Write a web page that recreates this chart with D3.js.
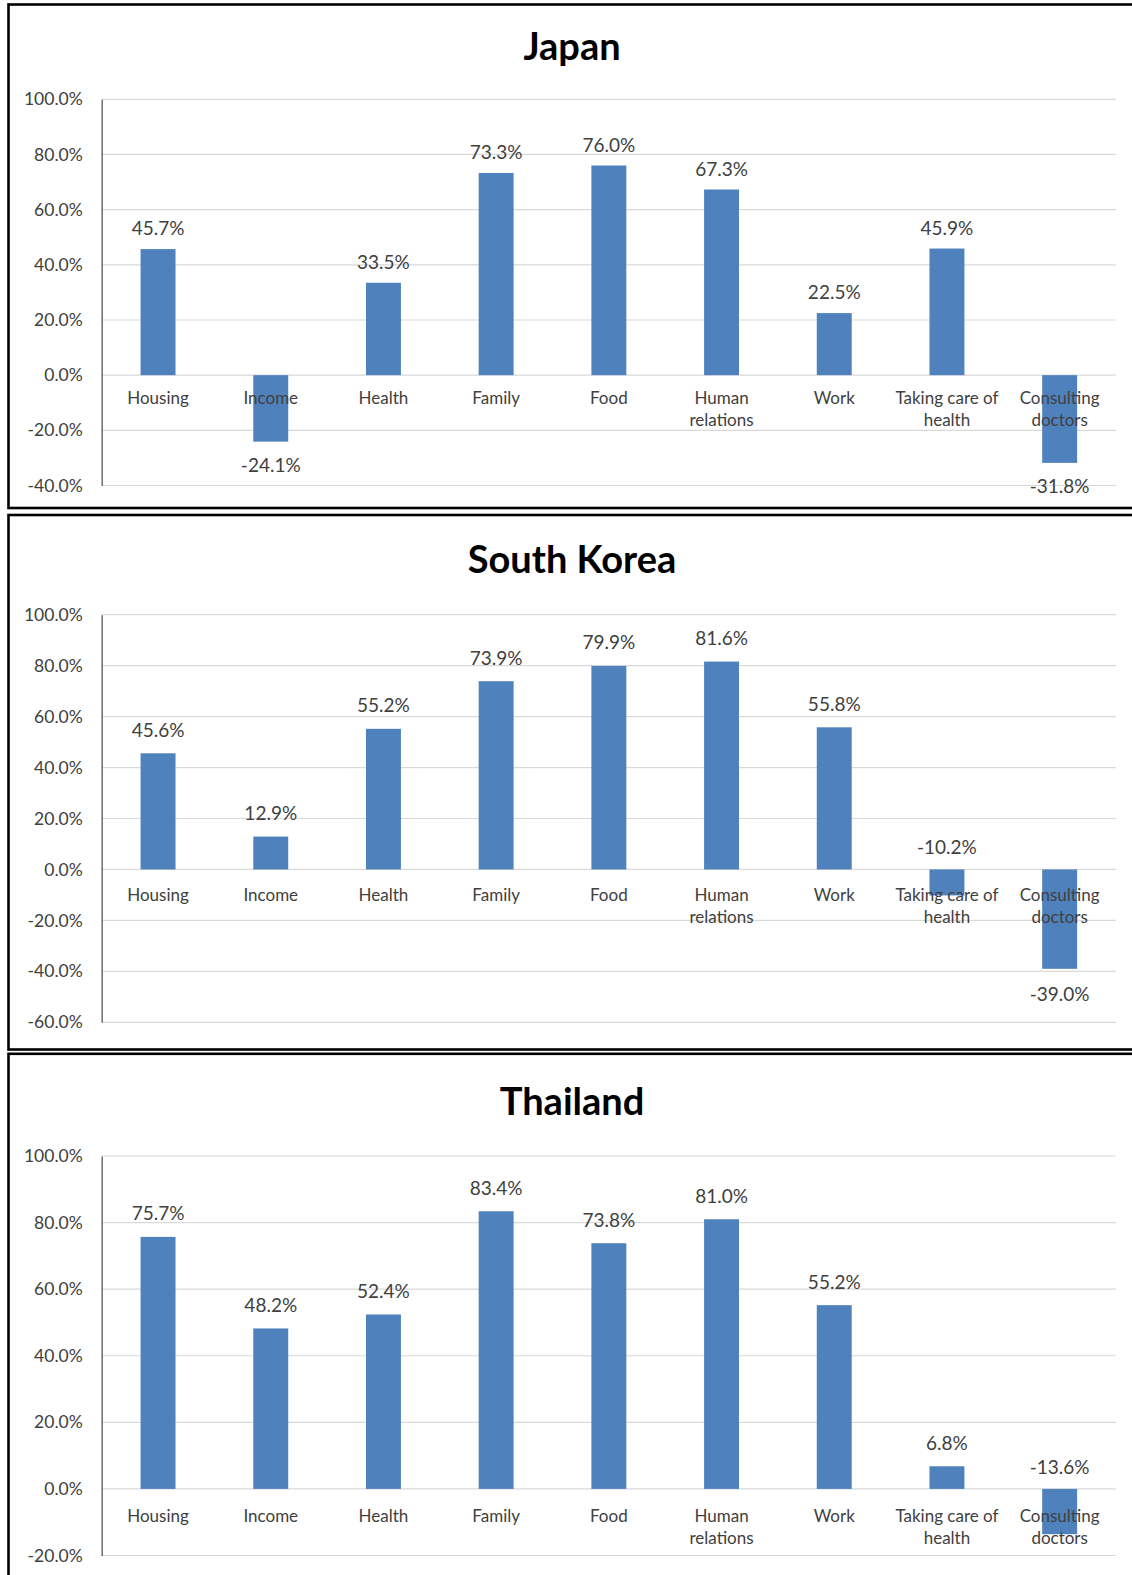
<!DOCTYPE html>
<html>
<head>
<meta charset="utf-8">
<script src="https://cdn.jsdelivr.net/npm/d3@7"></script>
<style>
  html, body { margin: 0; padding: 0; background: #fff; }
  svg { display: block; }
</style>
</head>
<body>
<svg id="chart" width="1132" height="1575"></svg>
<script>
// Share of respondents per life domain, by country (%)
const categories = ["Housing", "Income", "Health", "Family", "Food",
  "Human relations", "Work", "Taking care of health", "Consulting doctors"];
const categoryLines = [["Housing"], ["Income"], ["Health"], ["Family"], ["Food"],
  ["Human", "relations"], ["Work"], ["Taking care of", "health"], ["Consulting", "doctors"]];

const japanValues    = [45.7, -24.1, 33.5, 73.3, 76.0, 67.3, 22.5, 45.9, -31.8];
const koreaValues    = [45.6, 12.9, 55.2, 73.9, 79.9, 81.6, 55.8, -10.2, -39.0];
const thailandValues = [75.7, 48.2, 52.4, 83.4, 73.8, 81.0, 55.2, 6.8, -13.6];

const japanTicks    = [-40, -20, 0, 20, 40, 60, 80, 100];
const koreaTicks    = [-60, -40, -20, 0, 20, 40, 60, 80, 100];
const thailandTicks = [-20, 0, 20, 40, 60, 80, 100];

const titles = ["Japan", "South Korea", "Thailand"];

// Frame geometry for each of the three stacked charts
const panels = [
  { title: titles[0], values: japanValues, ticks: japanTicks,
    top: 4.5, bottom: 508, yTop: 99.3, yBottom: 485.5, titleY: 60,
    catOffset: 29, gapUp: 14, gapDown: 30 },
  { title: titles[1], values: koreaValues, ticks: koreaTicks,
    top: 515, bottom: 1049.5, yTop: 614.7, yBottom: 1022.3, titleY: 573,
    catOffset: 31.5, gapUp: 16.5, gapDown: 32 },
  { title: titles[2], values: thailandValues, ticks: thailandTicks,
    top: 1053.8, bottom: 1600, yTop: 1156, yBottom: 1555.5, titleY: 1115,
    catOffset: 33, gapUp: 16.5, gapDown: 32 }
];

const svg = d3.select("#chart");
const plotLeft = 101.7, plotRight = 1116;
const barColor = "#4F81BD";
const textColor = "#404040";
const font = "Lato, 'Open Sans', sans-serif";

const x = d3.scaleBand()
  .domain(categories)
  .range([plotLeft, plotRight])
  .paddingInner(0.69)
  .paddingOuter(0.345);

panels.forEach(p => {
  const g = svg.append("g");

  // frame
  g.append("rect")
    .attr("x", 8.5).attr("y", p.top)
    .attr("width", 1140).attr("height", p.bottom - p.top)
    .attr("fill", "#fff")
    .attr("stroke", "#000").attr("stroke-width", 2.6);

  const y = d3.scaleLinear()
    .domain([d3.min(p.ticks), d3.max(p.ticks)])
    .range([p.yBottom, p.yTop]);

  // title
  g.append("text")
    .attr("x", 572).attr("y", p.titleY)
    .attr("text-anchor", "middle")
    .attr("font-family", font).attr("font-weight", 700)
    .attr("font-size", 38).attr("fill", "#000")
    .text(p.title);

  // horizontal gridlines
  g.append("g").selectAll("line").data(p.ticks).join("line")
    .attr("x1", plotLeft).attr("x2", plotRight)
    .attr("y1", d => y(d)).attr("y2", d => y(d))
    .attr("stroke", "#D9D9D9").attr("stroke-width", 1.2);

  // y axis
  const axis = g.append("g")
    .attr("transform", `translate(${plotLeft},0)`)
    .call(d3.axisLeft(y).tickValues(p.ticks)
      .tickFormat(d => d.toFixed(1) + "%")
      .tickSize(0).tickPadding(19));
  axis.select(".domain").attr("stroke", "#595959").attr("stroke-width", 1.3);
  axis.selectAll("text")
    .attr("font-family", font).attr("font-size", 17.5)
    .attr("fill", textColor);

  const data = categories.map((c, i) => ({ c, i, v: p.values[i] }));

  // bars
  g.append("g").selectAll("rect").data(data).join("rect")
    .attr("x", d => x(d.c))
    .attr("width", x.bandwidth())
    .attr("y", d => y(Math.max(0, d.v)))
    .attr("height", d => Math.abs(y(d.v) - y(0)))
    .attr("fill", barColor);

  // category labels beside the zero line
  const cat = g.append("g").selectAll("text").data(data).join("text")
    .attr("text-anchor", "middle")
    .attr("font-family", font).attr("font-size", 17)
    .attr("fill", textColor);
  cat.each(function (d) {
    const t = d3.select(this);
    categoryLines[d.i].forEach((line, k) => {
      t.append("tspan")
        .attr("x", x(d.c) + x.bandwidth() / 2)
        .attr("y", y(0) + p.catOffset + k * 22)
        .text(line);
    });
  });

  // value labels
  g.append("g").selectAll("text").data(data).join("text")
    .attr("x", d => x(d.c) + x.bandwidth() / 2)
    .attr("y", d => {
      if (d.v >= 0) return y(d.v) - p.gapUp;
      if (d.v > -15) return y(0) - 15;
      return y(d.v) + p.gapDown;
    })
    .attr("text-anchor", "middle")
    .attr("font-family", font).attr("font-size", 19)
    .attr("fill", textColor)
    .text(d => d.v.toFixed(1) + "%");
});
</script>
</body>
</html>
